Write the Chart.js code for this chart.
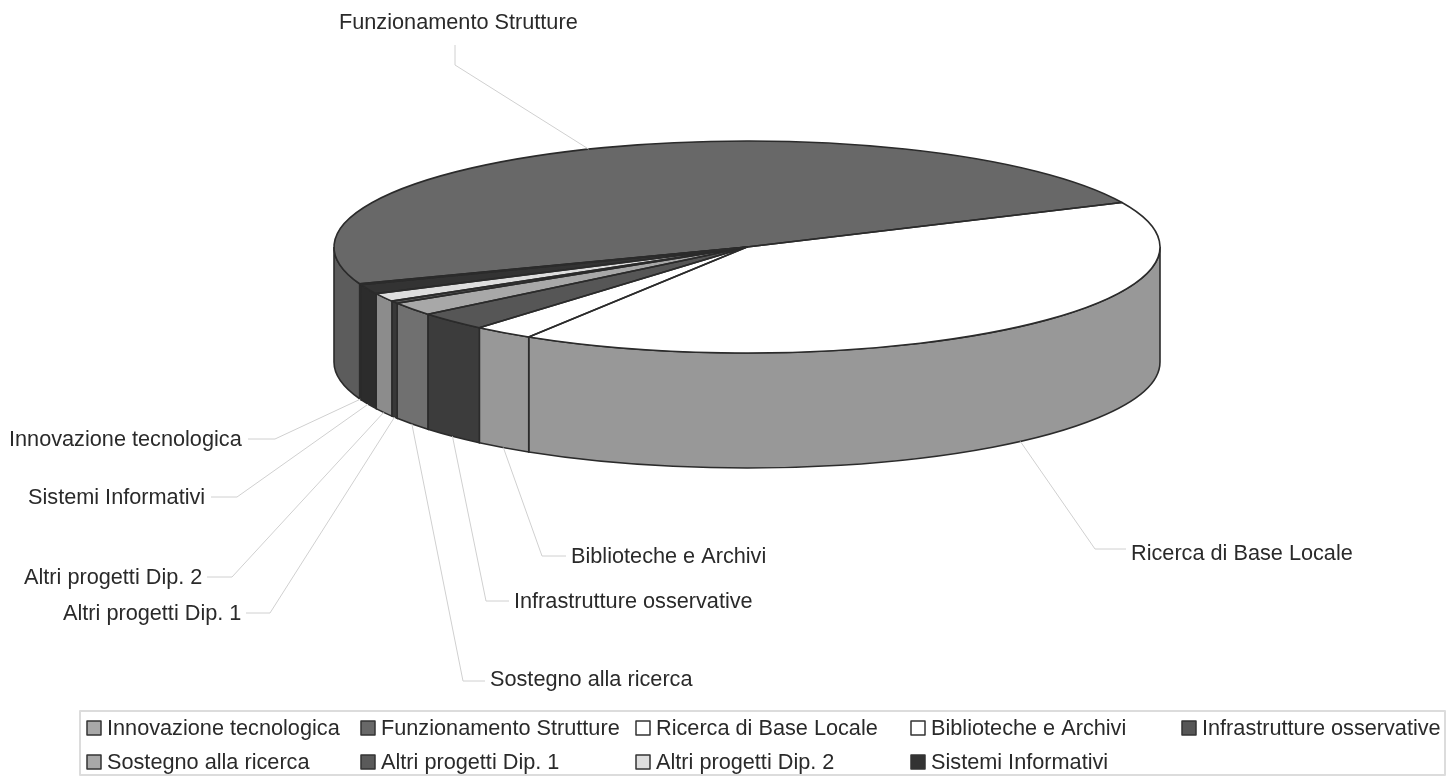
<!DOCTYPE html>
<html>
<head>
<meta charset="utf-8">
<script src="https://cdn.jsdelivr.net/npm/chart.js@4"></script>
<style>
  html, body { margin: 0; padding: 0; background: #fff; }
  canvas { display: block; filter: blur(0.6px); }
</style>
</head>
<body>
<canvas id="torta" width="1450" height="777"></canvas>
<script>
const categories = [
  "Innovazione tecnologica", "Funzionamento Strutture", "Ricerca di Base Locale",
  "Biblioteche e Archivi", "Infrastrutture osservative", "Sostegno alla ricerca",
  "Altri progetti Dip. 1", "Altri progetti Dip. 2", "Sistemi Informativi",
];
const values = [0.14, 48.75, 40.75, 2.36, 2.83, 2.03, 0.39, 1.28, 1.47];

const topColors = ["#a8a8a8", "#686868", "#ffffff", "#ffffff", "#565656", "#a8a8a8", "#5a5a5a", "#dedede", "#333333"];
const wallColors = ["#4a4a4a", "#5c5c5c", "#989898", "#989898", "#3c3c3c", "#707070", "#383838", "#8c8c8c", "#2c2c2c"];

// where the text goes, and the bend of each leader line
const labelX = [9, 339, 1131, 571, 514, 490, 63, 24, 28];
const labelY = [440, 23, 554, 557, 602, 680, 614, 578, 498];
const stubX = [248, 455, 1126, 566, 509, 485, 246, 207, 211];
const stubY = [439, 45, 549, 556, 601, 681, 613, 577, 497];
const elbowX = [275, 455, 1095, 542, 486, 463, 270, 232, 237];
const elbowY = [439, 65, 549, 556, 601, 681, 613, 577, 497];

// legend: column per item, row per item
const legendCol = [87, 361, 636, 911, 1182, 87, 361, 636, 911];
const legendRow = [728, 728, 728, 728, 728, 762, 762, 762, 762];

const cx = 747, cy = 247, rx = 413, ry = 106, depth = 115;
const font = '21.7px "Liberation Sans"', ink = "#2a2a2a", edge = "#2b2b2b";

function ranges(arc) {
  // parts of the slice on the front half of the disc
  const out = [];
  for (const k of [-1, 0, 1]) {
    const a = Math.max(arc.startAngle, k * 2 * Math.PI), b = Math.min(arc.endAngle, k * 2 * Math.PI + Math.PI);
    if (b > a) out.push([a, b]);
  }
  return out;
}

const torta3d = {
  id: "torta3d",
  beforeDatasetsDraw(chart) {
    const ctx = chart.ctx, arcs = chart.getDatasetMeta(0).data;
    arcs.forEach((arc, i) => {
      ranges(arc).forEach(([a, b]) => {
        ctx.beginPath();
        ctx.ellipse(cx, cy, rx, ry, 0, a, b);
        ctx.ellipse(cx, cy + depth, rx, ry, 0, b, a, true);
        ctx.closePath();
        ctx.fillStyle = wallColors[i];
        ctx.fill();
        ctx.strokeStyle = edge;
        ctx.lineWidth = 1.6;
        ctx.stroke();
      });
    });
    const arc = arcs[0];
    ctx.save();
    ctx.translate(cx, cy);
    ctx.scale(rx / arc.outerRadius, ry / arc.outerRadius);
    ctx.translate(-arc.x, -arc.y);
  },
  afterDatasetsDraw(chart) {
    const ctx = chart.ctx, arcs = chart.getDatasetMeta(0).data;
    ctx.restore();
    ctx.strokeStyle = edge;
    ctx.lineWidth = 1.6;
    ctx.lineJoin = "round";
    arcs.forEach((arc) => {
      ctx.beginPath();
      ctx.moveTo(cx, cy);
      ctx.ellipse(cx, cy, rx, ry, 0, arc.startAngle, arc.endAngle);
      ctx.closePath();
      ctx.stroke();
    });

    // leader lines start on the rim at the middle of each slice
    ctx.strokeStyle = "#d0d0d0";
    ctx.lineWidth = 1;
    arcs.forEach((arc, i) => {
      const mid = (arc.startAngle + arc.endAngle) / 2;
      const s = Math.sin(mid), x = cx + rx * Math.cos(mid);
      const y = cy + ry * s + (s > 0 ? depth : 0);
      ctx.beginPath();
      ctx.moveTo(stubX[i], stubY[i]);
      ctx.lineTo(elbowX[i], elbowY[i]);
      ctx.lineTo(x, y);
      ctx.stroke();
    });

    ctx.font = font;
    ctx.fillStyle = ink;
    ctx.textBaseline = "middle";
    ctx.textAlign = "left";
    categories.forEach((name, i) => ctx.fillText(name, labelX[i], labelY[i]));

    // legend
    ctx.strokeStyle = "#dcdcdc";
    ctx.lineWidth = 2;
    ctx.strokeRect(80, 711, 1365, 64);
    categories.forEach((name, i) => {
      ctx.fillStyle = topColors[i];
      ctx.fillRect(legendCol[i], legendRow[i] - 7, 14, 14);
      ctx.strokeStyle = "#333";
      ctx.lineWidth = 1.5;
      ctx.strokeRect(legendCol[i], legendRow[i] - 7, 14, 14);
      ctx.fillStyle = ink;
      ctx.fillText(name, legendCol[i] + 20, legendRow[i] + 1);
    });
  },
};

new Chart(document.getElementById("torta").getContext("2d"), {
  type: "pie",
  data: {
    labels: categories,
    datasets: [{
      data: values,
      backgroundColor: topColors,
      borderWidth: 0,
      hoverOffset: 0,
      clip: false,
    }],
  },
  options: {
    responsive: false,
    animation: false,
    rotation: 249.2,
    events: [],
    layout: { padding: 0 },
    plugins: { legend: { display: false }, tooltip: { enabled: false } },
  },
  plugins: [torta3d],
});
</script>
</body>
</html>
